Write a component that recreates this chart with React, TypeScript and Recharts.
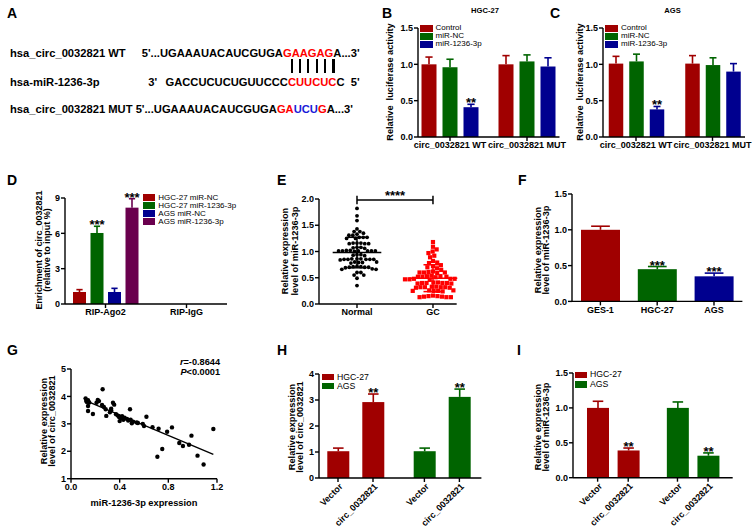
import React from 'react';
import { BarChart, Bar, Cell, XAxis, YAxis, ScatterChart, Scatter, ReferenceLine } from 'recharts';

const FONT = '"Liberation Sans", Arial, Helvetica, sans-serif';
const RED = '#a00000';
const GREEN = '#006400';
const BLUE = '#00008f';
const PURPLE = '#6a004e';
const SEQ_RED = '#ff0000';
const SEQ_BLUE = '#1a1ad8';

// ---------- B / C : luciferase
const lucCategories = ['circ_0032821 WT', 'circ_0032821 MUT'];
const lucSeries = ['Control', 'miR-NC', 'miR-1236-3p'];
const hgcControl = [1.0, 1.0];
const hgcControlSd = [0.1, 0.12];
const hgcNC = [0.96, 1.04];
const hgcNCSd = [0.11, 0.09];
const hgcMiR = [0.41, 0.97];
const hgcMiRSd = [0.04, 0.12];
const hgcMiRSig = ['**', ''];
const agsControl = [1.01, 1.01];
const agsControlSd = [0.1, 0.11];
const agsNC = [1.04, 0.99];
const agsNCSd = [0.1, 0.1];
const agsMiR = [0.38, 0.9];
const agsMiRSd = [0.04, 0.11];
const agsMiRSig = ['**', ''];

// ---------- D : RIP
const ripCategories = ['RIP-Ago2', 'RIP-IgG'];
const ripSeries = ['HGC-27 miR-NC', 'HGC-27 miR-1236-3p', 'AGS miR-NC', 'AGS miR-1236-3p'];
const ripHgcNC = [1.02, null];
const ripHgcNCSd = [0.2, null];
const ripHgcMiR = [6.03, null];
const ripHgcMiRSd = [0.57, null];
const ripHgcMiRSig = ['***', ''];
const ripAgsNC = [1.02, null];
const ripAgsNCSd = [0.31, null];
const ripAgsMiR = [8.18, null];
const ripAgsMiRSd = [0.76, null];
const ripAgsMiRSig = ['***', ''];

// ---------- E : tissue expression
const tissueCategories = ['Normal', 'GC'];
const normalValues = [
  1.82, 1.68, 1.59, 1.43, 1.38, 1.38, 1.35, 1.31, 1.31, 1.33, 1.27, 1.25, 1.27, 1.25, 1.27,
  1.16, 1.15, 1.16, 1.15, 1.15, 1.16, 1.08, 1.07, 1.08, 1.06, 1.01, 1.01, 1.02, 1.01, 1.0,
  1.01, 1.01, 1.02, 1.01, 0.94, 0.93, 0.94, 0.92, 0.85, 0.85, 0.86, 0.85, 0.85, 0.86, 0.85,
  0.84, 0.86, 0.79, 0.8, 0.79, 0.8, 0.78, 0.71, 0.7, 0.71, 0.7, 0.72, 0.7, 0.69, 0.66, 0.66,
  0.67, 0.6, 0.6, 0.55, 0.55, 0.49, 0.35,
];
const gcValues = [
  1.18, 1.09, 1.04, 1.0, 0.97, 0.92, 0.89, 0.82, 0.79, 0.78, 0.74, 0.72, 0.7, 0.68, 0.65,
  0.6, 0.62, 0.6, 0.59, 0.61, 0.6, 0.53, 0.52, 0.54, 0.52, 0.53, 0.51, 0.52, 0.48, 0.47,
  0.48, 0.46, 0.47, 0.48, 0.47, 0.4, 0.41, 0.4, 0.39, 0.4, 0.41, 0.4, 0.39, 0.33, 0.32,
  0.32, 0.31, 0.33, 0.32, 0.31, 0.32, 0.25, 0.26, 0.25, 0.24, 0.25, 0.26, 0.15, 0.14, 0.13,
  0.13, 0.13, 0.14, 0.15, 0.16,
];
const tissueSig = '****';

// ---------- F : cell lines
const cellLines = ['GES-1', 'HGC-27', 'AGS'];
const cellExpr = [1.0, 0.45, 0.35];
const cellSd = [0.05, 0.037, 0.045];
const cellSig = ['', '***', '***'];
const cellColors = [RED, GREEN, BLUE];

// ---------- G : correlation
const corrX = [
  0.12, 0.125, 0.13, 0.14, 0.15, 0.14, 0.14, 0.18, 0.21, 0.22, 0.23, 0.26, 0.255, 0.27, 0.285,
  0.29, 0.32, 0.33, 0.345, 0.355, 0.33, 0.37, 0.385, 0.395, 0.4, 0.41, 0.42, 0.43, 0.44, 0.46,
  0.47, 0.485, 0.49, 0.5, 0.51, 0.54, 0.55, 0.59, 0.6, 0.62, 0.67, 0.72, 0.79, 0.83, 0.71,
  0.75, 0.89, 0.92, 0.97, 0.99, 1.04, 1.09, 1.17,
];
const corrY = [
  3.93, 3.84, 3.8, 3.86, 3.78, 3.65, 3.47, 3.36, 3.77, 3.87, 3.83, 4.26, 3.69, 3.62, 3.53,
  3.29, 3.42, 3.5, 3.77, 3.7, 3.55, 3.35, 3.3, 3.25, 3.1, 3.2, 3.28, 3.15, 3.22, 3.18, 3.12,
  3.53, 3.15, 3.02, 3.08, 3.05, 3.03, 3.0, 2.92, 3.26, 2.88, 2.82, 2.71, 2.87, 1.8, 2.08, 2.3,
  2.19, 2.24, 2.57, 1.84, 1.52, 2.81,
];
const corrText = ['=-0.8644', '<0.0001'];

// ---------- H / I : overexpression
const oeGroups = ['HGC-27', 'AGS'];
const oeTickLabels = ['Vector', 'circ_0032821'];
const oeColors = [RED, GREEN];
const hVector = [1.03, 1.03];
const hVectorSd = [0.12, 0.12];
const hCirc = [2.92, 3.12];
const hCircSd = [0.31, 0.3];
const hSig = ['**', '**'];
const iVector = [1.0, 1.0];
const iVectorSd = [0.095, 0.085];
const iCirc = [0.39, 0.315];
const iCircSd = [0.035, 0.04];
const iSig = ['**', '**'];

// ================= helpers
const AX = { stroke: '#000', strokeWidth: 1.4 };
const TICK = { fontSize: 9, fontWeight: 700, fill: '#000', fontFamily: FONT };
const fmt1 = (v: number) => Number(v).toFixed(1);
const fmt0 = (v: number) => String(v);

const YW = 28;
const MT = 14;
const MR = 8;

type Box = { L: number; T: number; R: number; B: number };
function frame(b: Box, xh: number) {
  return {
    left: b.L - YW,
    top: b.T - MT,
    width: b.R - b.L + YW + MR,
    height: b.B - b.T + MT + xh,
  };
}

const errShape = (valueKey: string, sdKey: string, sigKey?: string) => (props: any) => {
  const { x, y, width, height, payload, fill } = props;
  const v = payload ? payload[valueKey] : null;
  if (v == null || !isFinite(x) || !isFinite(y) || !v) return <g />;
  const sd = payload[sdKey] || 0;
  const perUnit = height / v;
  const top = y - sd * perUnit;
  const cx = x + width / 2;
  const cap = width * 0.48;
  const sig = sigKey ? payload[sigKey] : '';
  return (
    <g>
      <rect x={x} y={y} width={width} height={height} fill={fill} />
      <line x1={cx} y1={y} x2={cx} y2={top} stroke={fill} strokeWidth={1.6} />
      <line x1={cx - cap / 2} y1={top} x2={cx + cap / 2} y2={top} stroke={fill} strokeWidth={1.6} />
      {sig ? (
        <text x={cx} y={top + 3} textAnchor="middle" fontSize={13} fontWeight={700} fontFamily={FONT} fill="#000">
          {sig}
        </text>
      ) : null}
    </g>
  );
};

function swarm(values: number[], center: number, unitX: number, unitY: number, d: number) {
  const order = values.map((_, i) => i).sort((a, b) => values[b] - values[a]);
  const placed: { x: number; y: number }[] = [];
  const out: { x: number; y: number }[] = [];
  for (const i of order) {
    const py = values[i] * unitY;
    const cands = [0];
    for (const q of placed) {
      const dy = q.y - py;
      if (Math.abs(dy) < d) {
        const dx = Math.sqrt(d * d - dy * dy);
        cands.push(q.x + dx, q.x - dx);
      }
    }
    cands.sort((a, b) => Math.abs(a) - Math.abs(b));
    let chosen = 0;
    for (const c of cands) {
      if (placed.every((q) => (q.x - c) ** 2 + (q.y - py) ** 2 >= d * d - 1e-6)) {
        chosen = c;
        break;
      }
    }
    placed.push({ x: chosen, y: py });
    out.push({ x: center + chosen / unitX, y: values[i] });
  }
  return out;
}

function meanSd(v: number[]) {
  const m = v.reduce((s, a) => s + a, 0) / v.length;
  const sd = Math.sqrt(v.reduce((s, a) => s + (a - m) ** 2, 0) / (v.length - 1));
  return { m, sd };
}

function linFit(xs: number[], ys: number[]) {
  const n = xs.length;
  const mx = xs.reduce((s, a) => s + a, 0) / n;
  const my = ys.reduce((s, a) => s + a, 0) / n;
  let sxy = 0;
  let sxx = 0;
  for (let i = 0; i < n; i++) {
    sxy += (xs[i] - mx) * (ys[i] - my);
    sxx += (xs[i] - mx) ** 2;
  }
  const b = sxy / sxx;
  return { a: my - b * mx, b };
}

function Letter({ ch, x, y }: { ch: string; x: number; y: number }) {
  return (
    <div style={{ position: 'absolute', left: x, top: y, fontSize: 14, lineHeight: '14px', fontWeight: 700 }}>{ch}</div>
  );
}

function VLabel({ cx, cy, lines, size = 9.2, lh = 8.4 }: { cx: number; cy: number; lines: string[]; size?: number; lh?: number }) {
  return (
    <div
      style={{
        position: 'absolute',
        left: cx,
        top: cy,
        transform: 'translate(-50%,-50%) rotate(-90deg)',
        whiteSpace: 'pre',
        textAlign: 'center',
        fontSize: size,
        fontWeight: 700,
        lineHeight: `${lh}px`,
      }}
    >
      {lines.map((l, i) => (
        <div key={i}>{l}</div>
      ))}
    </div>
  );
}

function LegendBox({ left, top, rowH, items, size = 8.2, sw = 13, rh }: { left: number; top: number; rowH: number; items: { label: string; color: string }[]; size?: number; sw?: number; rh?: number }) {
  return (
    <div style={{ position: 'absolute', left, top }}>
      {items.map((it, i) => (
        <div key={i} style={{ display: 'flex', alignItems: 'center', height: rowH }}>
          <div style={{ width: sw, height: rh ?? rowH - 1, background: it.color, marginRight: 3, flex: 'none' }} />
          <span style={{ fontSize: size, lineHeight: `${rowH}px`, whiteSpace: 'nowrap' }}>{it.label}</span>
        </div>
      ))}
    </div>
  );
}

const pairTick = (off: number, labels: string[]) => (props: any) => {
  const { x, y } = props;
  return (
    <g>
      {[-off, off].map((dx, k) => {
        const tx = x + dx + 3;
        const ty = y + 7;
        return (
          <g key={k}>
            <line x1={x + dx} y1={y} x2={x + dx} y2={y + 4} stroke="#000" strokeWidth={1.4} />
            <text
              x={tx}
              y={ty}
              transform={`rotate(-45 ${tx} ${ty})`}
              textAnchor="end"
              dominantBaseline="central"
              fontSize={9}
              fontWeight={700}
              fontFamily={FONT}
              fill="#000"
            >
              {labels[k]}
            </text>
          </g>
        );
      })}
    </g>
  );
};

// ================= data tables
const hgcLucData = lucCategories.map((name, i) => ({
  name,
  control: hgcControl[i], controlSd: hgcControlSd[i],
  nc: hgcNC[i], ncSd: hgcNCSd[i],
  mir: hgcMiR[i], mirSd: hgcMiRSd[i], mirSig: hgcMiRSig[i],
}));
const agsLucData = lucCategories.map((name, i) => ({
  name,
  control: agsControl[i], controlSd: agsControlSd[i],
  nc: agsNC[i], ncSd: agsNCSd[i],
  mir: agsMiR[i], mirSd: agsMiRSd[i], mirSig: agsMiRSig[i],
}));
const ripData = ripCategories.map((name, i) => ({
  name,
  hnc: ripHgcNC[i], hncSd: ripHgcNCSd[i],
  hmir: ripHgcMiR[i], hmirSd: ripHgcMiRSd[i], hmirSig: ripHgcMiRSig[i],
  anc: ripAgsNC[i], ancSd: ripAgsNCSd[i],
  amir: ripAgsMiR[i], amirSd: ripAgsMiRSd[i], amirSig: ripAgsMiRSig[i],
}));
const cellData = cellLines.map((name, i) => ({ name, v: cellExpr[i], sd: cellSd[i], sig: cellSig[i] }));
const hData = oeGroups.map((name, i) => ({ name, vec: hVector[i], vecSd: hVectorSd[i], circ: hCirc[i], circSd: hCircSd[i], sig: hSig[i] }));
const iData = oeGroups.map((name, i) => ({ name, vec: iVector[i], vecSd: iVectorSd[i], circ: iCirc[i], circSd: iCircSd[i], sig: iSig[i] }));
const corrData = corrX.map((x, i) => ({ x, y: corrY[i] }));

// ================= boxes (plot areas)
const boxB: Box = { L: 418, T: 27.7, R: 559.5, B: 136.7 };
const boxC: Box = { L: 603, T: 27.7, R: 745, B: 136.7 };
const boxD: Box = { L: 65, T: 197.7, R: 227, B: 303.7 };
const boxE: Box = { L: 319.3, T: 199, R: 457, B: 304 };
const boxF: Box = { L: 572.3, T: 194.3, R: 742.7, B: 301.7 };
const boxG: Box = { L: 71, T: 369, R: 217, B: 478.7 };
const boxH: Box = { L: 319.3, T: 374.3, R: 481.7, B: 478.3 };
const boxI: Box = { L: 573.3, T: 373.3, R: 733, B: 478 };

const eDomain: [number, number] = [0.5, 2.312];
const eUnitX = (boxE.R - boxE.L) / (eDomain[1] - eDomain[0]);
const eUnitY = (boxE.B - boxE.T) / 2;
const normalPts = swarm(normalValues, 1, eUnitX, eUnitY, 3.9);
const gcPts = swarm(gcValues, 2, eUnitX, eUnitY, 4.5);
const nStat = meanSd(normalValues);
const gStat = meanSd(gcValues);
const fit = linFit(corrX, corrY);
const fitX0 = Math.min(...corrX);
const fitX1 = Math.max(...corrX);

function LucChart({ box, data, padding, barSize }: { box: Box; data: any[]; padding: { left: number; right: number }; barSize: number }) {
  const f = frame(box, 24);
  return (
    <div style={{ position: 'absolute', left: f.left, top: f.top }}>
      <BarChart width={f.width} height={f.height} data={data} margin={{ top: MT, right: MR, bottom: 0, left: 0 }} barSize={barSize} barGap={6}>
        <XAxis dataKey="name" height={24} axisLine={AX} tickLine={AX} tick={TICK} tickSize={4} tickMargin={1} interval={0} padding={padding} />
        <YAxis width={YW} domain={[0, 1.5]} ticks={[0, 0.5, 1, 1.5]} tickFormatter={fmt1} axisLine={AX} tickLine={AX} tick={TICK} tickSize={4} tickMargin={1} interval={0} />
        <Bar dataKey="control" fill={RED} isAnimationActive={false} shape={errShape('control', 'controlSd')} />
        <Bar dataKey="nc" fill={GREEN} isAnimationActive={false} shape={errShape('nc', 'ncSd')} />
        <Bar dataKey="mir" fill={BLUE} isAnimationActive={false} shape={errShape('mir', 'mirSd', 'mirSig')} />
      </BarChart>
    </div>
  );
}

function OeChart({ box, data, padding, barGap, domain, ticks, fmt }: { box: Box; data: any[]; padding: { left: number; right: number }; barGap: number; domain: [number, number]; ticks: number[]; fmt: (v: number) => string }) {
  const f = frame(box, 52);
  const barSize = 22;
  return (
    <div style={{ position: 'absolute', left: f.left, top: f.top }}>
      <BarChart width={f.width} height={f.height} data={data} margin={{ top: MT, right: MR, bottom: 0, left: 0 }} barSize={barSize} barGap={barGap}>
        <XAxis dataKey="name" height={52} axisLine={AX} tickLine={false} tickSize={0} tickMargin={0} interval={0} padding={padding} tick={pairTick((barSize + barGap) / 2, oeTickLabels)} />
        <YAxis width={YW} domain={domain} ticks={ticks} tickFormatter={fmt} axisLine={AX} tickLine={AX} tick={TICK} tickSize={4} tickMargin={1} interval={0} />
        <Bar dataKey="vec" isAnimationActive={false} shape={errShape('vec', 'vecSd')}>
          {data.map((_, i) => (
            <Cell key={i} fill={oeColors[i]} />
          ))}
        </Bar>
        <Bar dataKey="circ" isAnimationActive={false} shape={errShape('circ', 'circSd', 'sig')}>
          {data.map((_, i) => (
            <Cell key={i} fill={oeColors[i]} />
          ))}
        </Bar>
      </BarChart>
    </div>
  );
}

export default function App() {
  const fD = frame(boxD, 24);
  const fE = frame(boxE, 24);
  const fF = frame(boxF, 24);
  const fG = frame(boxG, 34);
  const segW = 0.32;
  const capW = 0.125;
  return (
    <div style={{ position: 'absolute', left: 0, top: 0, width: 752, height: 527, background: '#fff', fontFamily: FONT, color: '#000', overflow: 'hidden' }}>
      {/* ---------- A ---------- */}
      <Letter ch="A" x={7} y={6} />
      <div style={{ position: 'absolute', left: 10, top: 46, fontSize: 11.2, fontWeight: 700, lineHeight: '14px', whiteSpace: 'pre' }}>hsa_circ_0032821 WT</div>
      <div style={{ position: 'absolute', left: 141.7, top: 46, fontSize: 11.2, fontWeight: 700, lineHeight: '14px', whiteSpace: 'pre' }}>
        5'...UGAAAUACAUCGUGA<span style={{ color: SEQ_RED }}>GAAGAG</span>A...3'
      </div>
      <div style={{ position: 'absolute', left: 290.5, top: 59, display: 'flex', gap: 6.2 }}>
        {[0, 1, 2, 3, 4, 5].map((i) => (
          <div key={i} style={{ width: 2.2, height: 14, background: '#000' }} />
        ))}
      </div>
      <div style={{ position: 'absolute', left: 10, top: 74.5, fontSize: 11.2, fontWeight: 700, lineHeight: '14px', whiteSpace: 'pre' }}>hsa-miR-1236-3p</div>
      <div style={{ position: 'absolute', left: 148.3, top: 74.5, fontSize: 11.2, fontWeight: 700, lineHeight: '14px', whiteSpace: 'pre' }}>3'</div>
      <div style={{ position: 'absolute', left: 165.5, top: 74.5, fontSize: 11.2, fontWeight: 700, lineHeight: '14px', whiteSpace: 'pre' }}>
        GACCUCUCUGUUCCC<span style={{ color: SEQ_RED }}>CUUCUC</span>C{'  '}5'
      </div>
      <div style={{ position: 'absolute', left: 10, top: 102, fontSize: 11.2, fontWeight: 700, lineHeight: '14px', whiteSpace: 'pre' }}>
        hsa_circ_0032821 MUT 5'...UGAAAUACAUCGUGA<span style={{ color: SEQ_RED }}>GA</span>
        <span style={{ color: SEQ_BLUE }}>UCU</span>
        <span style={{ color: SEQ_RED }}>G</span>A...3'
      </div>

      {/* ---------- B ---------- */}
      <Letter ch="B" x={382} y={6} />
      <div style={{ position: 'absolute', left: 485, top: 10, transform: 'translate(-50%,-50%)', fontSize: 7.6, fontWeight: 700 }}>HGC-27</div>
      <LucChart box={boxB} data={hgcLucData} padding={{ left: -6.5, right: -6 }} barSize={15} />
      <VLabel cx={390} cy={82} lines={['Relative  luciferase activity']} />
      <LegendBox left={419.5} top={24} rowH={8} rh={7} size={8} items={lucSeries.map((l, i) => ({ label: l, color: [RED, GREEN, BLUE][i] }))} />

      {/* ---------- C ---------- */}
      <Letter ch="C" x={550} y={6} />
      <div style={{ position: 'absolute', left: 672.5, top: 10, transform: 'translate(-50%,-50%)', fontSize: 7.6, fontWeight: 700 }}>AGS</div>
      <LucChart box={boxC} data={agsLucData} padding={{ left: -5.25, right: -5.75 }} barSize={14.5} />
      <VLabel cx={580} cy={82} lines={['Relative  luciferase activity']} />
      <LegendBox left={605} top={24} rowH={8} rh={7} size={8} items={lucSeries.map((l, i) => ({ label: l, color: [RED, GREEN, BLUE][i] }))} />

      {/* ---------- D ---------- */}
      <Letter ch="D" x={7} y={173} />
      <div style={{ position: 'absolute', left: fD.left, top: fD.top }}>
        <BarChart width={fD.width} height={fD.height} data={ripData} margin={{ top: MT, right: MR, bottom: 0, left: 0 }} barSize={13} barGap={4.5}>
          <XAxis dataKey="name" height={24} axisLine={AX} tickLine={AX} tick={TICK} tickSize={4} tickMargin={1} interval={0} />
          <YAxis width={YW} domain={[0, 9]} ticks={[0, 3, 6, 9]} tickFormatter={fmt0} axisLine={AX} tickLine={AX} tick={TICK} tickSize={4} tickMargin={1} interval={0} />
          <Bar dataKey="hnc" fill={RED} isAnimationActive={false} shape={errShape('hnc', 'hncSd')} />
          <Bar dataKey="hmir" fill={GREEN} isAnimationActive={false} shape={errShape('hmir', 'hmirSd', 'hmirSig')} />
          <Bar dataKey="anc" fill={BLUE} isAnimationActive={false} shape={errShape('anc', 'ancSd')} />
          <Bar dataKey="amir" fill={PURPLE} isAnimationActive={false} shape={errShape('amir', 'amirSd', 'amirSig')} />
        </BarChart>
      </div>
      <VLabel cx={42.5} cy={250} lines={['Enrichment of circ_0032821', '(relative to input %)']} size={9} />
      <LegendBox left={143.3} top={193.7} rowH={8} rh={6.7} sw={12} size={8} items={ripSeries.map((l, i) => ({ label: l, color: [RED, GREEN, BLUE, PURPLE][i] }))} />

      {/* ---------- E ---------- */}
      <Letter ch="E" x={277} y={173} />
      <div style={{ position: 'absolute', left: fE.left, top: fE.top }}>
        <ScatterChart width={fE.width} height={fE.height} margin={{ top: MT, right: MR, bottom: 0, left: 0 }}>
          <XAxis type="number" dataKey="x" domain={eDomain} ticks={[1, 2]} tickFormatter={(v: number) => tissueCategories[v - 1]} height={24} axisLine={AX} tickLine={AX} tick={TICK} tickSize={4} tickMargin={1} interval={0} allowDataOverflow />
          <YAxis type="number" dataKey="y" width={YW} domain={[0, 2]} ticks={[0, 0.5, 1, 1.5, 2]} tickFormatter={fmt1} axisLine={AX} tickLine={AX} tick={TICK} tickSize={4} tickMargin={1} interval={0} allowDataOverflow />
          <Scatter data={normalPts} isAnimationActive={false} shape={(p: any) => <circle cx={p.cx} cy={p.cy} r={1.9} fill="#000" />} />
          <Scatter data={gcPts} isAnimationActive={false} shape={(p: any) => <rect x={p.cx - 2.1} y={p.cy - 2.1} width={4.2} height={4.2} fill="#ff0000" />} />
          <ReferenceLine segment={[{ x: 1 - segW, y: nStat.m }, { x: 1 + segW, y: nStat.m }]} stroke="#000" strokeWidth={1.5} ifOverflow="visible" />
          <ReferenceLine segment={[{ x: 1 - capW, y: nStat.m + nStat.sd }, { x: 1 + capW, y: nStat.m + nStat.sd }]} stroke="#000" strokeWidth={1.5} ifOverflow="visible" />
          <ReferenceLine segment={[{ x: 1 - capW, y: nStat.m - nStat.sd }, { x: 1 + capW, y: nStat.m - nStat.sd }]} stroke="#000" strokeWidth={1.5} ifOverflow="visible" />
          <ReferenceLine segment={[{ x: 1, y: nStat.m - nStat.sd }, { x: 1, y: nStat.m + nStat.sd }]} stroke="#000" strokeWidth={1.5} ifOverflow="visible" />
          <ReferenceLine segment={[{ x: 2 - segW, y: gStat.m }, { x: 2 + segW, y: gStat.m }]} stroke="#ff0000" strokeWidth={1.5} ifOverflow="visible" />
          <ReferenceLine segment={[{ x: 2 - capW, y: gStat.m + gStat.sd }, { x: 2 + capW, y: gStat.m + gStat.sd }]} stroke="#ff0000" strokeWidth={1.5} ifOverflow="visible" />
          <ReferenceLine segment={[{ x: 2 - capW, y: Math.max(0, gStat.m - gStat.sd) }, { x: 2 + capW, y: Math.max(0, gStat.m - gStat.sd) }]} stroke="#ff0000" strokeWidth={1.5} ifOverflow="visible" />
          <ReferenceLine segment={[{ x: 2, y: Math.max(0, gStat.m - gStat.sd) }, { x: 2, y: gStat.m + gStat.sd }]} stroke="#ff0000" strokeWidth={1.5} ifOverflow="visible" />
          <ReferenceLine segment={[{ x: 1, y: 1.98 }, { x: 2, y: 1.98 }]} stroke="#000" strokeWidth={1.5} ifOverflow="visible" label={{ value: tissueSig, position: 'top', offset: 0, fontSize: 13, fontWeight: 700, fill: '#000', fontFamily: FONT }} />
          <ReferenceLine segment={[{ x: 1, y: 1.9 }, { x: 1, y: 2.06 }]} stroke="#000" strokeWidth={1.5} ifOverflow="visible" />
          <ReferenceLine segment={[{ x: 2, y: 1.9 }, { x: 2, y: 2.06 }]} stroke="#000" strokeWidth={1.5} ifOverflow="visible" />
        </ScatterChart>
      </div>
      <VLabel cx={290} cy={251} lines={['Relative expression', 'level of miR-1236-3p']} lh={9.5} />

      {/* ---------- F ---------- */}
      <Letter ch="F" x={518} y={173} />
      <div style={{ position: 'absolute', left: fF.left, top: fF.top }}>
        <BarChart width={fF.width} height={fF.height} data={cellData} margin={{ top: MT, right: MR, bottom: 0, left: 0 }} barSize={39}>
          <XAxis dataKey="name" height={24} axisLine={AX} tickLine={AX} tick={TICK} tickSize={4} tickMargin={1} interval={0} />
          <YAxis width={YW} domain={[0, 1.5]} ticks={[0, 0.5, 1, 1.5]} tickFormatter={fmt1} axisLine={AX} tickLine={AX} tick={TICK} tickSize={4} tickMargin={1} interval={0} />
          <Bar dataKey="v" isAnimationActive={false} shape={errShape('v', 'sd', 'sig')}>
            {cellData.map((_, i) => (
              <Cell key={i} fill={cellColors[i]} />
            ))}
          </Bar>
        </BarChart>
      </div>
      <VLabel cx={542} cy={250} lines={['Relative expression', 'level of miR-1236-3p']} />

      {/* ---------- G ---------- */}
      <Letter ch="G" x={7} y={343} />
      <div style={{ position: 'absolute', left: fG.left, top: fG.top }}>
        <ScatterChart width={fG.width} height={fG.height} margin={{ top: MT, right: MR, bottom: 0, left: 0 }}>
          <XAxis type="number" dataKey="x" domain={[0, 1.2]} ticks={[0, 0.4, 0.8, 1.2]} tickFormatter={fmt1} height={34} axisLine={AX} tickLine={AX} tick={TICK} tickSize={4} tickMargin={1} interval={0} label={{ value: 'miR-1236-3p expression', position: 'insideBottom', offset: 7, fontSize: 9.3, fontWeight: 700, fill: '#000', fontFamily: FONT }} />
          <YAxis type="number" dataKey="y" width={YW} domain={[1, 5]} ticks={[1, 2, 3, 4, 5]} tickFormatter={fmt0} axisLine={AX} tickLine={AX} tick={TICK} tickSize={4} tickMargin={1} interval={0} />
          <Scatter data={corrData} isAnimationActive={false} shape={(p: any) => <circle cx={p.cx} cy={p.cy} r={2.2} fill="#000" />} />
          <ReferenceLine segment={[{ x: fitX0, y: fit.a + fit.b * fitX0 }, { x: fitX1, y: fit.a + fit.b * fitX1 }]} stroke="#000" strokeWidth={1.3} ifOverflow="visible" />
        </ScatterChart>
      </div>
      <VLabel cx={47.5} cy={421} lines={['Relative expression', 'level of circ_0032821']} />
      <div style={{ position: 'absolute', left: 120, width: 100, top: 357, textAlign: 'right', fontSize: 9.2, fontWeight: 700, lineHeight: '10px' }}>
        <div><i>r</i>{corrText[0]}</div>
        <div><i>P</i>{corrText[1]}</div>
      </div>

      {/* ---------- H ---------- */}
      <Letter ch="H" x={277} y={343} />
      <OeChart box={boxH} data={hData} padding={{ left: -6.7, right: -3.7 }} barGap={13} domain={[0, 4]} ticks={[0, 1, 2, 3, 4]} fmt={fmt0} />
      <VLabel cx={296} cy={426.5} lines={['Relative expression', 'level of circ_0032821']} />
      <LegendBox left={321.7} top={372.5} rowH={9} rh={6.5} sw={12.3} size={8.7} items={oeGroups.map((l, i) => ({ label: l, color: oeColors[i] }))} />

      {/* ---------- I ---------- */}
      <Letter ch="I" x={517} y={343} />
      <OeChart box={boxI} data={iData} padding={{ left: 0, right: 0 }} barGap={8.6} domain={[0, 1.5]} ticks={[0, 0.5, 1, 1.5]} fmt={fmt1} />
      <VLabel cx={542} cy={426.5} lines={['Relative expression', 'level of miR-1236-3p']} />
      <LegendBox left={575} top={370.3} rowH={9.5} rh={6.5} sw={12} size={8.7} items={oeGroups.map((l, i) => ({ label: l, color: oeColors[i] }))} />
    </div>
  );
}
